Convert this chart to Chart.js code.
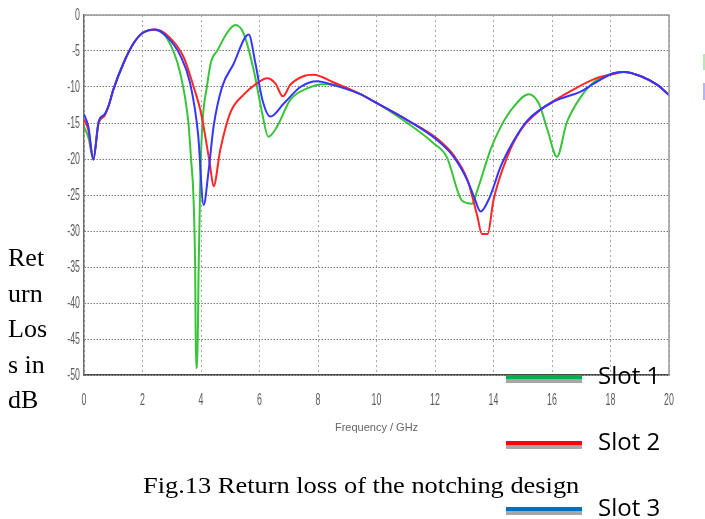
<!DOCTYPE html>
<html>
<head>
<meta charset="utf-8">
<title>Return loss</title>
<script src="https://cdn.jsdelivr.net/npm/chart.js@4/dist/chart.umd.min.js"></script>
<style>
  html, body { margin: 0; padding: 0; background: #fff; }
  #wrap { position: relative; width: 705px; height: 519px; overflow: hidden; }
  #rlChart { position: absolute; left: 0; top: 0; }
  .side-label {
    position: absolute; left: 8px; top: 240px;
    font: 26px "Liberation Serif", "Times New Roman", serif;
    line-height: 35.5px; color: #000;
  }
  .caption {
    position: absolute; left: 143px; top: 472px; white-space: nowrap;
    font: 24px "Liberation Serif", "Times New Roman", serif;
    color: #000; transform: scaleX(1.1); transform-origin: left top;
  }
  .key { position: absolute; left: 506px; width: 76px; height: 4px; }
  .key::after {
    content: ""; position: absolute; left: 0; right: 0; top: 4px; height: 4px; background: #a6a6a6;
  }
  .key-text {
    position: absolute; left: 598px; white-space: nowrap;
    font: 24px "Open Sans", "Noto Sans", sans-serif; color: #000;
  }
  .stub { position: absolute; left: 703px; width: 2px; }
</style>
</head>
<body>
<div id="wrap">
  <canvas id="rlChart" width="705" height="519"></canvas>
  <div class="side-label">Ret<br>urn<br>Los<br>s in<br>dB</div>
  <div class="caption">Fig.13 Return loss of the notching design</div>
  <div id="legendBox"></div>
  <div class="stub" style="top:54px;height:16px;background:#b8e6b8"></div>
  <div class="stub" style="top:83px;height:17px;background:#b4b4ff"></div>
</div>
<script>
// Measured S11 curves (frequency in GHz, return loss in dB)
const slot1Freq = [0, 0.15, 0.32, 0.5, 0.7, 0.85, 1.0, 1.35, 1.7, 2.0, 2.35, 2.83, 3.29, 3.57, 3.66, 3.74, 3.8, 3.83, 3.87, 3.92, 3.98, 4.05, 4.2, 4.35, 4.55, 4.89, 5.17, 5.45, 5.8, 6.09, 6.3, 6.6, 7.05, 7.63, 8.3, 9.45, 11.05, 11.95, 12.4, 12.93, 13.27, 13.45, 13.9, 14.25, 14.7, 15.2, 15.55, 15.85, 16.17, 16.5, 17.0, 17.44, 18.1, 18.46, 19.04, 19.6, 20];
const slot1Loss = [-15.5, -17, -20, -15, -14, -12.5, -10.4, -6.7, -3.9, -2.5, -2.1, -3.2, -8.1, -15, -20, -25, -35, -49, -49, -35, -22, -15, -10, -6.4, -5, -2.5, -1.4, -2.5, -7.6, -13.6, -16.9, -15.5, -11.8, -10.2, -9.6, -11, -15, -17.8, -19.7, -25.8, -26.2, -24.3, -18.7, -15.5, -12.7, -11, -12.3, -16, -19.7, -15, -11.3, -9.3, -8.1, -7.9, -8.5, -9.7, -11.1];

const slot2Freq = [0, 0.15, 0.32, 0.5, 0.7, 0.85, 1.0, 1.35, 1.7, 2.0, 2.45, 2.9, 3.4, 3.75, 4.0, 4.3, 4.43, 4.66, 5.0, 5.45, 5.91, 6.26, 6.54, 6.8, 7.05, 7.5, 7.85, 8.5, 9.45, 9.9, 11.05, 12.08, 12.64, 13.1, 13.45, 13.6, 13.8, 14.0, 14.47, 14.93, 15.6, 16.5, 17.44, 18.1, 18.46, 19.04, 19.6, 20];
const slot2Loss = [-14.5, -16, -20, -15, -14, -12.5, -10.4, -6.7, -3.9, -2.5, -2.0, -3.0, -5.8, -10, -13.6, -20.6, -23.8, -18.7, -13.6, -11.1, -9.5, -8.8, -9.5, -11.3, -9.7, -8.5, -8.3, -9.3, -11, -12, -14.6, -17.2, -19.5, -22.8, -28, -30.4, -30.4, -25.7, -19.7, -16, -13.2, -10.9, -8.9, -8.2, -7.9, -8.5, -9.7, -11.1];

const slot3Freq = [0, 0.15, 0.32, 0.5, 0.7, 0.85, 1.0, 1.35, 1.7, 2.0, 2.43, 2.83, 3.29, 3.63, 3.9, 4.09, 4.25, 4.43, 4.72, 5.1, 5.63, 5.86, 6.1, 6.37, 6.83, 7.4, 7.97, 8.5, 9.45, 9.9, 11.05, 12.08, 12.64, 13.1, 13.33, 13.56, 13.85, 14.25, 14.7, 15.17, 16.07, 17.0, 17.44, 18.1, 18.46, 19.04, 19.6, 20];
const slot3Loss = [-13.8, -15.5, -20.1, -14.8, -13.8, -12.5, -10.4, -6.7, -3.9, -2.5, -2.0, -3.0, -5.6, -9.5, -16.5, -26.4, -22, -15.5, -10, -6.9, -2.7, -6.7, -11.8, -14.1, -12.3, -10, -9.2, -9.7, -11.0, -12, -14.6, -17.4, -19.7, -22.9, -25.2, -27.3, -25.5, -21, -17.4, -14.6, -12, -10.6, -9.5, -8.1, -7.9, -8.5, -9.7, -11.1];

const seriesNames = ['Slot 1', 'Slot 2', 'Slot 3'];
const lineColors = ['#38c438', '#ff2626', '#3535ff'];
const keyColors = ['#00b050', '#ff0000', '#0070c0'];
const keyTops = [375, 441, 507];

const freqMin = 0, freqMax = 20, freqStep = 2;
const lossMin = -50, lossMax = 0, lossStep = 5;

function points(xs, ys) {
    return xs.map((x, i) => ({ x: x, y: ys[i] }));
}

// --- legend on the right, written as plain markup ---
const legendBox = document.getElementById('legendBox');
seriesNames.forEach((name, i) => {
    const key = document.createElement('div');
    key.className = 'key';
    key.style.top = keyTops[i] + 'px';
    key.style.background = keyColors[i];
    legendBox.appendChild(key);

    const txt = document.createElement('div');
    txt.className = 'key-text';
    txt.style.top = (keyTops[i] - 17) + 'px';
    txt.textContent = name;
    legendBox.appendChild(txt);
});

// solid grey frame along the top and right edge of the plot
const plotFrame = {
    id: 'plotFrame',
    afterDatasetsDraw(chart) {
        const { ctx, chartArea: a } = chart;
        ctx.save();
        ctx.strokeStyle = '#9a9a9a';
        ctx.lineWidth = 1.5;
        ctx.beginPath();
        ctx.moveTo(a.left, a.top);
        ctx.lineTo(a.right, a.top);
        ctx.lineTo(a.right, a.bottom);
        ctx.stroke();
        ctx.restore();
    }
};

// tick labels in a squeezed face, like the analyser's export
const narrowTicks = {
    id: 'narrowTicks',
    afterDraw(chart) {
        const { ctx } = chart;
        const xs = chart.scales.x, ys = chart.scales.y;
        ctx.save();
        ctx.font = '16px "Liberation Sans", Arial, sans-serif';
        ctx.fillStyle = '#5c5c5c';
        ctx.textBaseline = 'middle';

        ctx.textAlign = 'center';
        xs.ticks.forEach(t => {
            ctx.save();
            ctx.translate(xs.getPixelForValue(t.value), xs.top + 26);
            ctx.scale(0.55, 1);
            ctx.fillText(t.label, 0, 0);
            ctx.restore();
        });

        ctx.textAlign = 'right';
        ys.ticks.forEach(t => {
            ctx.save();
            ctx.translate(ys.right - 4, ys.getPixelForValue(t.value) + 1);
            ctx.scale(0.55, 1);
            ctx.fillText(t.label, 0, 0);
            ctx.restore();
        });
        ctx.restore();
    }
};

const datasets = [slot1Freq, slot2Freq, slot3Freq].map((xs, i) => ({
    label: seriesNames[i],
    data: points(xs, [slot1Loss, slot2Loss, slot3Loss][i]),
    borderColor: lineColors[i],
    borderWidth: 2,
    pointRadius: 0,
    cubicInterpolationMode: 'monotone',
    order: 2 - i
}));

new Chart(document.getElementById('rlChart'), {
    type: 'line',
    data: { datasets: datasets },
    plugins: [plotFrame, narrowTicks],
    options: {
        responsive: false,
        animation: false,
        layout: { padding: { top: 15, right: 36, left: 0, bottom: 0 } },
        plugins: {
            legend: { display: false },
            tooltip: { enabled: false }
        },
        scales: {
            x: {
                type: 'linear',
                min: freqMin,
                max: freqMax,
                afterFit: (scale) => { scale.height = 144; },
                ticks: { stepSize: freqStep, display: false },
                grid: { color: '#a8a8a8', drawTicks: false },
                border: { color: '#4a4a4a', width: 1.5, dash: [2, 3] },
                title: {
                    display: true,
                    text: 'Frequency / GHz',
                    color: '#666',
                    font: { family: '"Liberation Sans", Arial, sans-serif', size: 11 },
                    padding: { top: 0, bottom: 84 }
                }
            },
            y: {
                min: lossMin,
                max: lossMax,
                afterFit: (scale) => { scale.width = 84; },
                ticks: { stepSize: lossStep, display: false },
                grid: { color: '#7a7a7a', drawTicks: false },
                border: { color: '#6a6a6a', width: 1.5, dash: [1.5, 1.5] }
            }
        }
    }
});
</script>
</body>
</html>
